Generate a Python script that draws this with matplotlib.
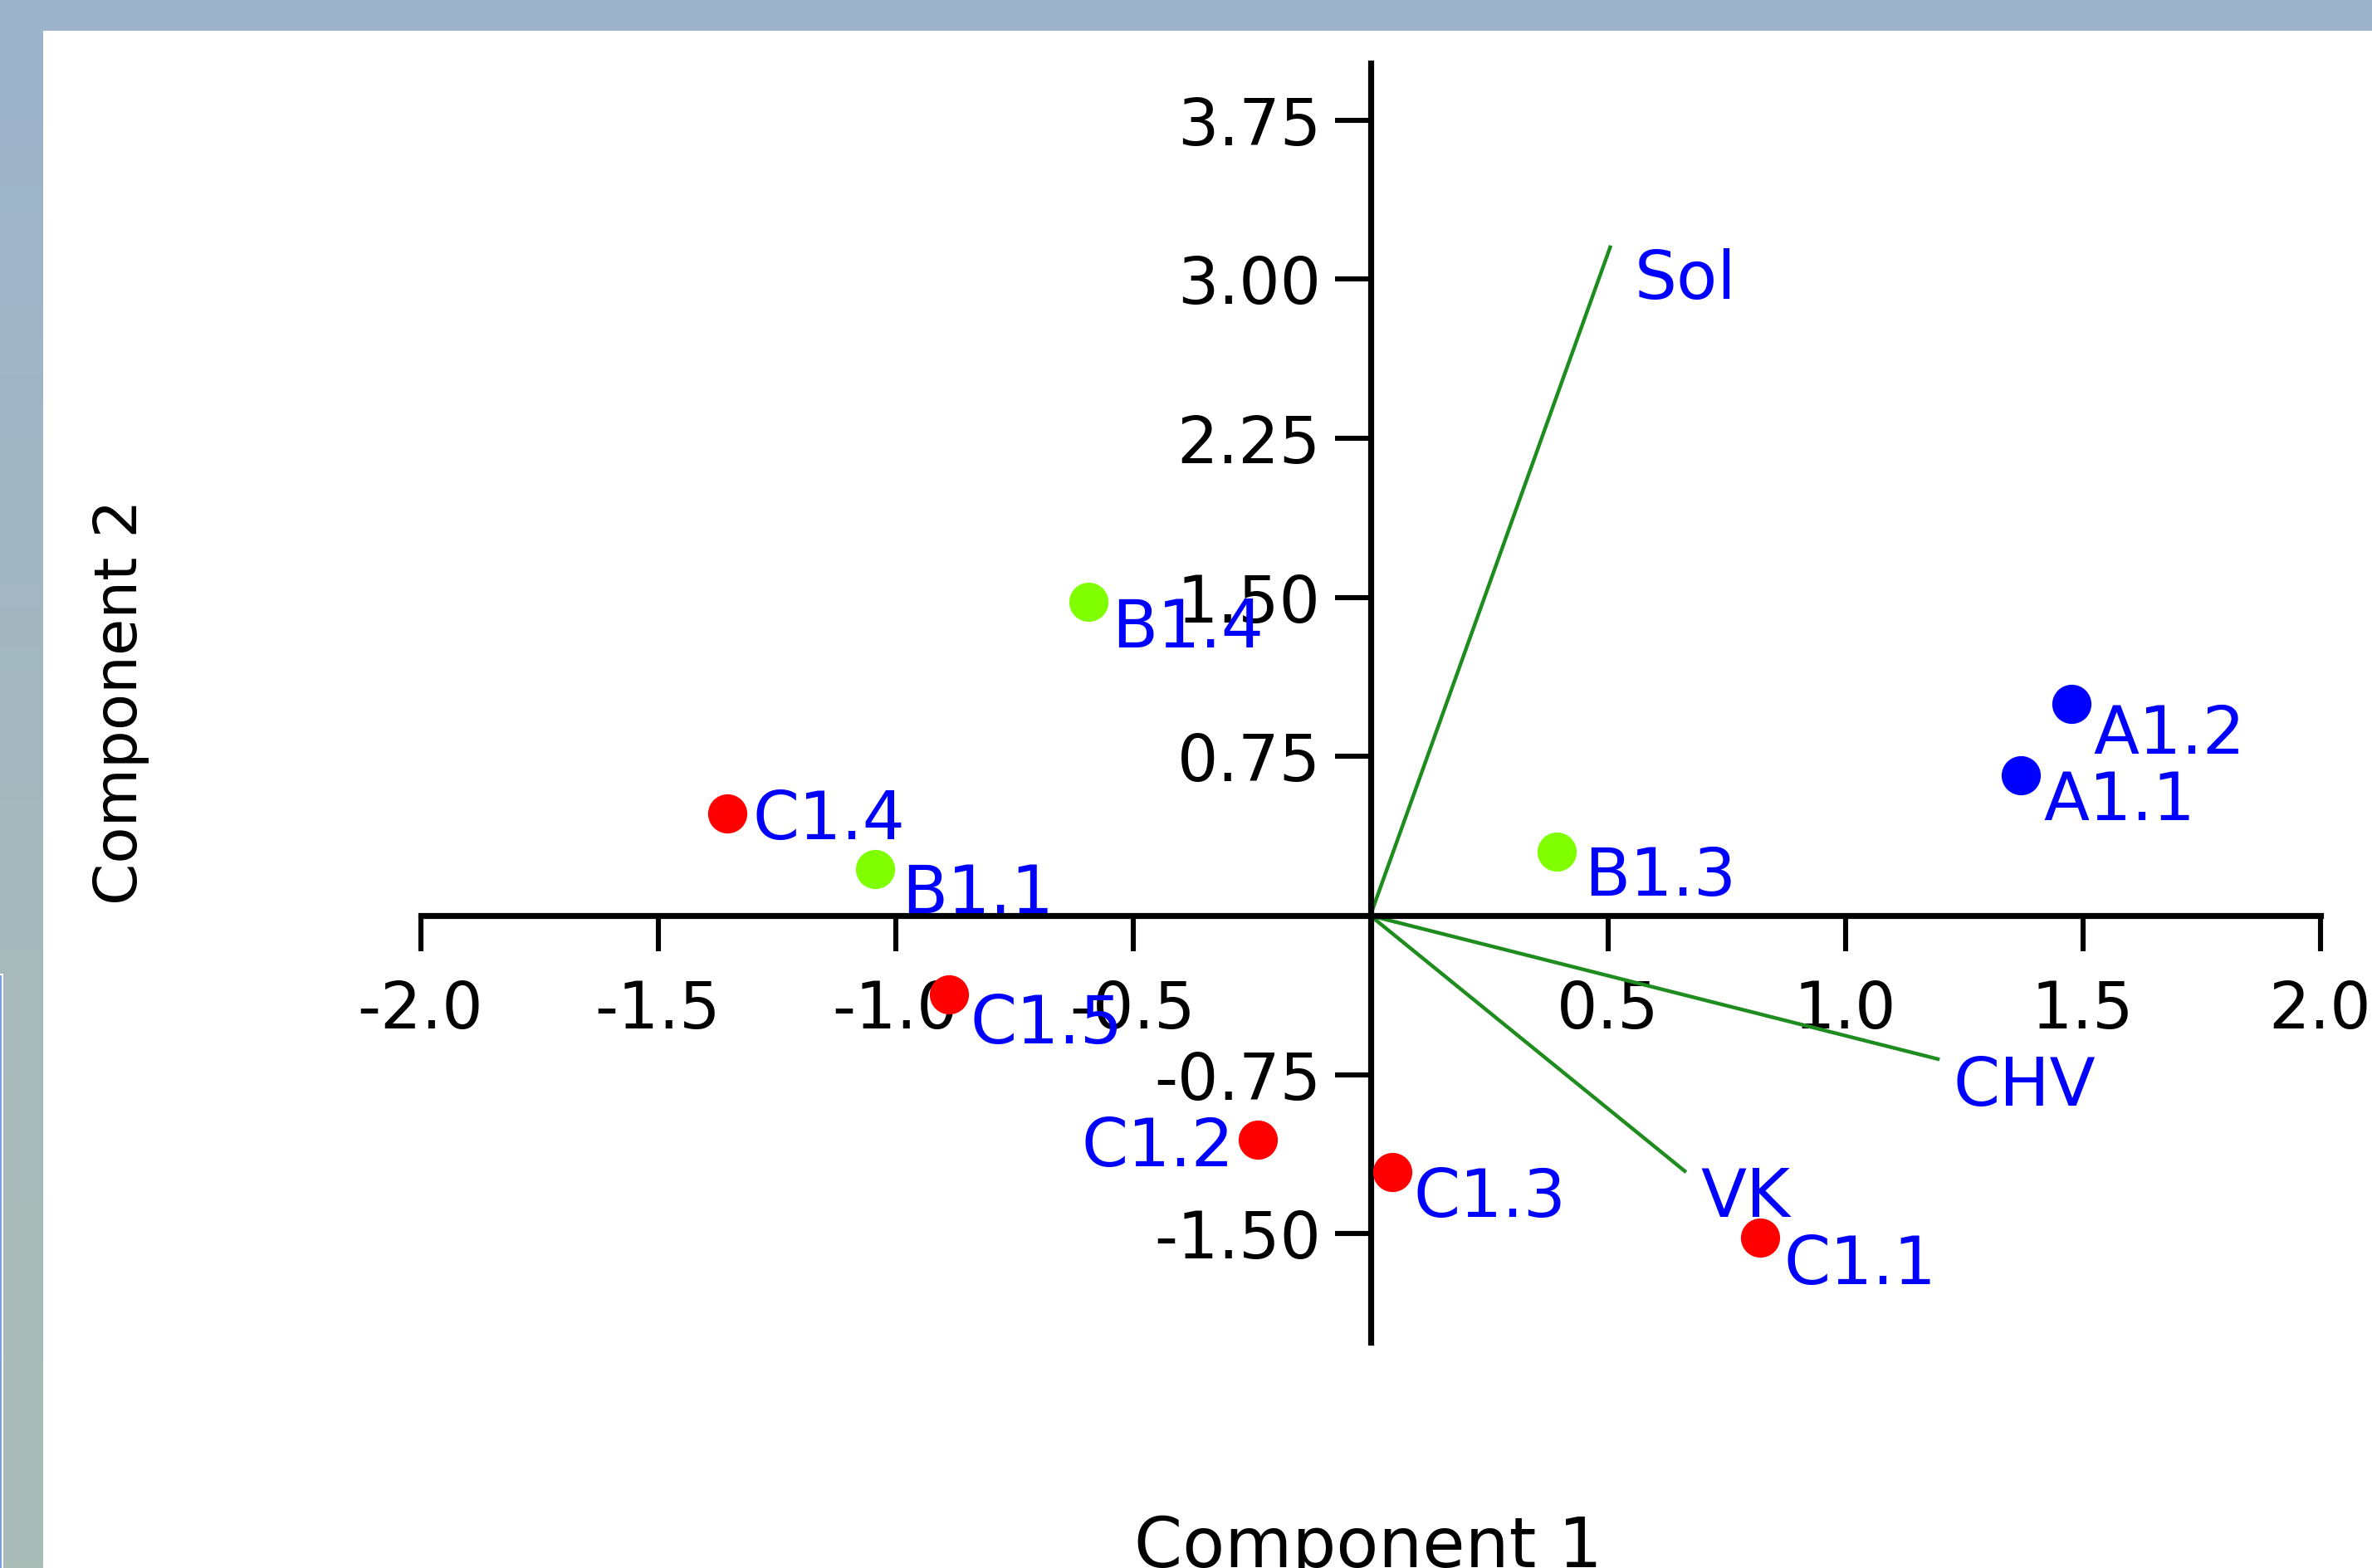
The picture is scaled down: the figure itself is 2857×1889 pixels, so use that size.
import numpy as np
import matplotlib.pyplot as plt
from matplotlib.patches import Rectangle

plt.rcParams['font.family'] = 'DejaVu Sans'
plt.rcParams['axes.unicode_minus'] = False

# PCA scores of the samples (Component 1, Component 2)
sample_names = ['A1.1', 'A1.2', 'B1.1', 'B1.3', 'B1.4',
                'C1.1', 'C1.2', 'C1.3', 'C1.4', 'C1.5']
comp1 = [1.370, 1.476, -1.042, 0.392, -0.594, 0.820, -0.237, 0.047, -1.354, -0.888]
comp2 = [0.660, 0.998, 0.221, 0.301, 1.478, -1.516, -1.055, -1.210, 0.480, -0.371]
sample_groups = ['A', 'A', 'B', 'B', 'B', 'C', 'C', 'C', 'C', 'C']

# variable loadings (biplot arrows)
var_names = ['Sol', 'CHV', 'VK']
var_comp1 = [0.505, 1.195, 0.662]
var_comp2 = [3.15, -0.676, -1.204]

xtick_vals = [-2.0, -1.5, -1.0, -0.5, 0.5, 1.0, 1.5, 2.0]
ytick_vals = [-1.50, -0.75, 0.75, 1.50, 2.25, 3.00, 3.75]

group_colors = {'A': '#0000ff', 'B': '#80ff00', 'C': '#ff0000'}

# label placement: (dx, dy) in points, horizontal alignment
label_pos = {
    'A1.1': (9.7, -19.4, 'left'), 'A1.2': (9.4, -21.6, 'left'),
    'B1.1': (11.5, -19.4, 'left'), 'B1.3': (12.2, -19.1, 'left'),
    'B1.4': (10.4, -19.8, 'left'), 'C1.1': (10.6, -20.2, 'left'),
    'C1.2': (-10.4, -11.5, 'right'), 'C1.3': (9.2, -19.4, 'left'),
    'C1.4': (11.0, -11.2, 'left'), 'C1.5': (9.2, -21.2, 'left'),
    'Sol': (10.5, -22.3, 'left'), 'CHV': (6.8, -20.2, 'left'),
    'VK': (6.8, -19.8, 'left'),
}

W, H, DPI = 2857, 1889, 200
fig = plt.figure(figsize=(W / DPI, H / DPI), dpi=DPI)
fig.patch.set_facecolor('white')

# window frame: top band and left gradient band
fig.add_artist(Rectangle((0, 1 - 37 / H), 1, 37 / H, transform=fig.transFigure,
                         facecolor='#9db3cb', edgecolor='none', zorder=0))
bax = fig.add_axes([0, 0, 52 / W, 1 - 37 / H])
top_c = np.array([157, 179, 203]) / 255
mid_c = np.array([167, 185, 187]) / 255
bot_c = np.array([169, 188, 182]) / 255
t = np.linspace(0, 1, 200)[:, None]
grad = np.where(t < 0.6, top_c + (mid_c - top_c) * (t / 0.6),
                mid_c + (bot_c - mid_c) * ((t - 0.6) / 0.4))
bax.imshow(grad[:, None, :], aspect='auto', extent=[0, 1, 0, 1])
bax.axis('off')
fig.add_artist(Rectangle((0, 0), 4 / W, 1 - 1173 / H, transform=fig.transFigure,
                         facecolor='white', edgecolor='none', zorder=1))
fig.add_artist(Rectangle((0, 0), 2 / W, 1 - 1175 / H, transform=fig.transFigure,
                         facecolor='#7f9ce0', edgecolor='none', zorder=2))

# main axes with spines crossing at the origin
ax = fig.add_axes([506.5 / W, (H - 1616.8) / H, 2288 / W, 1541.3 / H])
ax.set_xlim(-2.0, 2.0)
ax.set_ylim(-2.01, 4.02)
ax.patch.set_alpha(0)
for s in ['top', 'right']:
    ax.spines[s].set_visible(False)
for s in ['left', 'bottom']:
    ax.spines[s].set_position(('data', 0))
    ax.spines[s].set_linewidth(2.6)
    ax.spines[s].set_color('black')

ax.set_xticks(xtick_vals)
ax.set_xticklabels([f'{v:.1f}' for v in xtick_vals])
ax.set_yticks(ytick_vals)
ax.set_yticklabels([f'{v:.2f}' for v in ytick_vals])
ax.tick_params(axis='both', direction='out', length=15.5, width=2.2,
               labelsize=28, colors='black')
ax.tick_params(axis='x', pad=12)
ax.tick_params(axis='y', pad=6)

# loading arrows
for name, lx, ly in zip(var_names, var_comp1, var_comp2):
    ax.plot([0, lx], [0, ly], color='#1e8c1e', lw=1.6, zorder=2)
    dx, dy, ha = label_pos[name]
    ax.annotate(name, (lx, ly), xytext=(dx, dy), textcoords='offset points',
                ha=ha, va='baseline', color='#0000ff', fontsize=29,
                annotation_clip=False, zorder=4)

# sample scores
for name, x, y, g in zip(sample_names, comp1, comp2, sample_groups):
    ax.plot(x, y, 'o', ms=17, color=group_colors[g], mec='none',
            zorder=3, clip_on=False)
    dx, dy, ha = label_pos[name]
    ax.annotate(name, (x, y), xytext=(dx, dy), textcoords='offset points',
                ha=ha, va='baseline', color='#0000ff', fontsize=29,
                annotation_clip=False, zorder=4)

fig.text(1648 / W, 1 / H, 'Component 1', ha='center', va='baseline', fontsize=30)
fig.text(146 / W, 1 - 846 / H, 'Component 2', rotation=90,
         ha='center', va='center', fontsize=26)

fig.savefig('out.png', dpi=DPI)
